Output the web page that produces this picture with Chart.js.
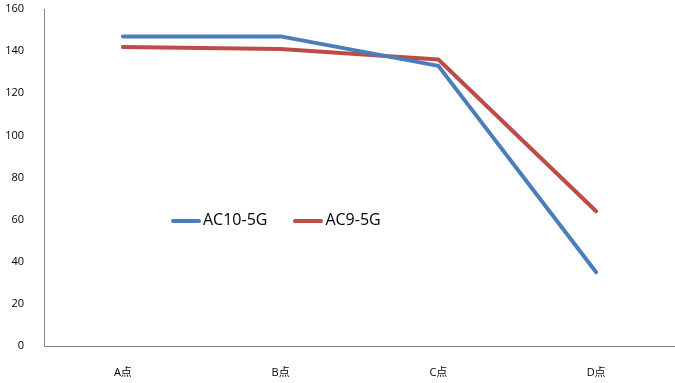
<!DOCTYPE html>
<html>
<head>
<meta charset="utf-8">
<script src="https://cdn.jsdelivr.net/npm/chart.js@4"></script>
<style>
  html, body { margin:0; padding:0; background:#fff; }
  #wrap { position:relative; width:675px; height:383px; }
  #legend { position:absolute; left:171px; top:208px; font-family:"Open Sans","Noto Sans CJK SC",sans-serif; font-size:16px; color:#000; white-space:nowrap; }
  #legend span.item { display:inline-block; margin-right:26px; }
  #legend i { display:inline-block; width:30px; height:4px; vertical-align:middle; margin-right:2px; border-radius:2px; }
</style>
</head>
<body>
<div id="wrap">
  <canvas id="grafico" width="675" height="383"></canvas>
  <div id="legend"></div>
</div>
<script>
  // Dados
  const categorias = ["A点", "B点", "C点", "D点"];
  const serieAC10 = [147, 147, 133, 35];
  const serieAC9 = [142, 141, 136, 64];
  const ticksY = [0, 20, 40, 60, 80, 100, 120, 140, 160];

  const fonte = "'Open Sans','Noto Sans CJK SC',sans-serif";

  const datasets = [
    { label: "AC10-5G", data: serieAC10, borderColor: "#4a7ebb", backgroundColor: "#4a7ebb" },
    { label: "AC9-5G", data: serieAC9, borderColor: "#be4b48", backgroundColor: "#be4b48" }
  ].map(d => Object.assign(d, { borderWidth: 4, pointRadius: 0, tension: 0, borderCapStyle: "round", borderJoinStyle: "round" }));

  new Chart(document.getElementById("grafico"), {
    type: "line",
    data: { labels: categorias, datasets: datasets },
    options: {
      responsive: false,
      animation: false,
      layout: { padding: { top: 9, right: 0, left: 0, bottom: 0 } },
      plugins: { legend: { display: false }, tooltip: { enabled: false } },
      scales: {
        x: {
          offset: true,
          grid: { display: false },
          border: { display: true, color: "#868686", width: 1 },
          ticks: { color: "#000", font: { family: fonte, size: 11 }, padding: 12 },
          afterFit: s => { s.height = 37; s.paddingRight = 0; }
        },
        y: {
          min: 0, max: 160,
          afterBuildTicks: s => { s.ticks = ticksY.map(v => ({ value: v })); },
          grid: { display: false },
          border: { display: true, color: "#868686", width: 1 },
          ticks: { color: "#000", font: { family: fonte, size: 11 }, padding: 12 },
          afterFit: s => { s.width = 44; s.paddingTop = 0; s.paddingBottom = 0; }
        }
      }
    }
  });

  // Legenda
  const leg = document.getElementById("legend");
  datasets.forEach(d => {
    const sp = document.createElement("span");
    sp.className = "item";
    sp.innerHTML = `<i style="background:${d.borderColor}"></i>${d.label}`;
    leg.appendChild(sp);
  });
</script>
</body>
</html>
